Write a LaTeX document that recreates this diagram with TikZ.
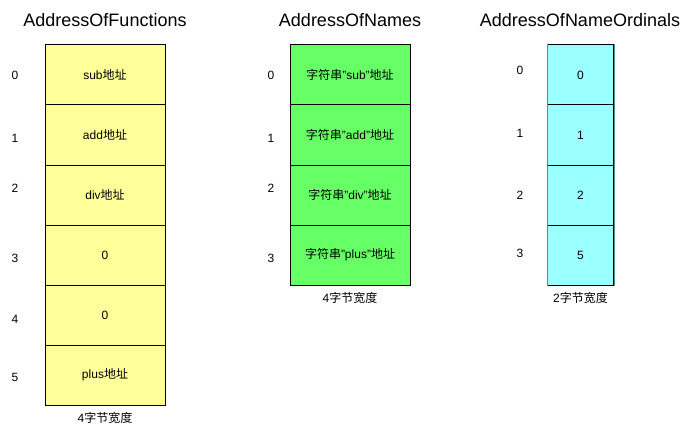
\documentclass[tikz,border=0pt]{standalone}
\usepackage{fontspec}
\setmainfont{Liberation Sans}
\newfontfamily\cjk{Noto Sans CJK SC}
\newcommand{\zh}[1]{{\cjk #1}}
\usetikzlibrary{positioning}

\definecolor{funcyellow}{HTML}{FFFF99}
\definecolor{namegreen}{HTML}{66FF66}
\definecolor{ordcyan}{HTML}{99FFFF}
\definecolor{ordedge}{HTML}{5C8A8A}

\tikzset{
    cell/.style={rectangle,draw,line width=1pt,minimum height=60pt,inner sep=0pt,font=\fontsize{12}{14}\selectfont},
    fcell/.style={cell,fill=funcyellow,minimum width=120pt},
    ncell/.style={cell,fill=namegreen,minimum width=120pt},
    ocell/.style={cell,fill=ordcyan,minimum width=66pt},
    idx/.style={font=\fontsize{12}{14}\selectfont},
    title/.style={font=\fontsize{18}{20}\selectfont},
    widthnote/.style={font=\fontsize{12}{14}\selectfont}
}

\begin{document}
\begin{tikzpicture}[x=1pt,y=-1pt]
        \useasboundingbox (0,0) rectangle (690,433);

        % AddressOfFunctions 数组
        \node[title] (ftitle) at (105,20) {AddressOfFunctions};
        \node[fcell] (f0) at (105,75) {sub\zh{地址}};
        \node[fcell] (f1) at (105,135) {add\zh{地址}};
        \node[fcell] (f2) at (105,195) {div\zh{地址}};
        \node[fcell] (f3) at (105,255) {0};
        \node[fcell] (f4) at (105,315) {0};
        \node[fcell] (f5) at (105,375) {plus\zh{地址}};
        \node[widthnote] (fwidth) at (105,418) {4\zh{字节宽度}};

        % 左侧下标
        \node[idx] (fi0) at (15,75) {0};
        \node[idx] (fi1) at (15,138) {1};
        \node[idx] (fi2) at (15,188) {2};
        \node[idx] (fi3) at (15,258) {3};
        \node[idx] (fi4) at (15,319) {4};
        \node[idx] (fi5) at (15,377) {5};

        % AddressOfNames 数组
        \node[title] (ntitle) at (350,20) {AddressOfNames};
        \node[ncell] (n0) at (350,75) {\zh{字符串}"sub"\zh{地址}};
        \node[ncell] (n1) at (350,135) {\zh{字符串}"add"\zh{地址}};
        \node[ncell] (n2) at (350,195) {\zh{字符串}"div"\zh{地址}};
        \node[ncell] (n3) at (350,255) {\zh{字符串}"plus"\zh{地址}};
        \node[widthnote] (nwidth) at (350,298) {4\zh{字节宽度}};

        \node[idx] (ni0) at (271,75) {0};
        \node[idx] (ni1) at (271,138) {1};
        \node[idx] (ni2) at (271,188) {2};
        \node[idx] (ni3) at (271,258) {3};

        % AddressOfNameOrdinals 数组
        \node[title] (otitle) at (580,20) {AddressOfNameOrdinals};
        \node[ocell] (o0) at (580.5,75) {0};
        \node[ocell] (o1) at (580.5,135) {1};
        \node[ocell] (o2) at (580.5,195) {2};
        \node[ocell] (o3) at (580.5,255) {5};
        \node[widthnote] (owidth) at (580.5,298) {2\zh{字节宽度}};
        \draw[ordedge,line width=1pt] (o0.north west) -- (o3.south west);
        \draw[ordedge,line width=1pt] (o0.north east) -- (o3.south east);

        \node[idx] (oi0) at (520,70) {0};
        \node[idx] (oi1) at (520,133) {1};
        \node[idx] (oi2) at (520,195) {2};
        \node[idx] (oi3) at (520,253) {3};
    \end{tikzpicture}
\end{document}
